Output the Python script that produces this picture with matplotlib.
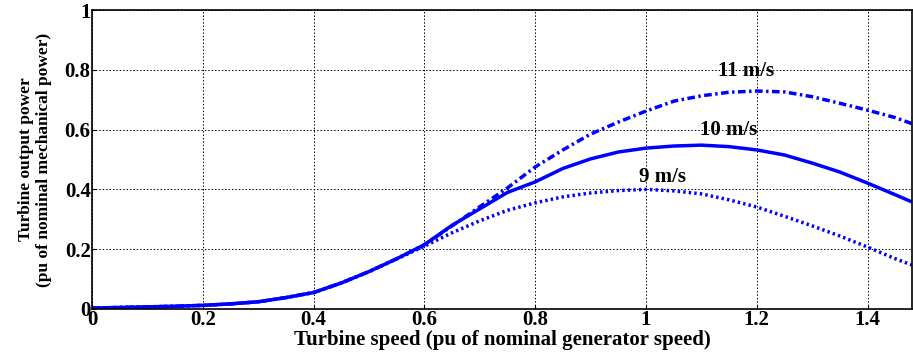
import matplotlib
matplotlib.use("Agg")
import matplotlib.pyplot as plt
import numpy as np

# Turbine speed (pu)
speed = [0, 0.05, 0.1, 0.15, 0.2, 0.25, 0.3, 0.35, 0.4, 0.45, 0.5, 0.55, 0.6,
         0.65, 0.7, 0.75, 0.8, 0.85, 0.9, 0.95, 1.0, 1.05, 1.1, 1.15, 1.2,
         1.25, 1.3, 1.35, 1.4, 1.45, 1.48]

# Turbine output power (pu) for each wind speed
p_9 = [0.003, 0.005, 0.007, 0.009, 0.012, 0.017, 0.024, 0.038, 0.055, 0.087, 0.125, 0.167, 0.21,
       0.255, 0.295, 0.33, 0.355, 0.375, 0.388, 0.396, 0.4, 0.395, 0.385, 0.365, 0.341,
       0.31, 0.278, 0.244, 0.207, 0.168, 0.147]
p_10 = [0.003, 0.005, 0.007, 0.009, 0.012, 0.017, 0.024, 0.038, 0.055, 0.087, 0.125, 0.168, 0.215,
        0.28, 0.335, 0.39, 0.425, 0.47, 0.502, 0.525, 0.538, 0.545, 0.548, 0.543, 0.532,
        0.515, 0.488, 0.458, 0.421, 0.382, 0.358]
p_11 = [0.003, 0.005, 0.007, 0.009, 0.012, 0.017, 0.024, 0.038, 0.055, 0.087, 0.125, 0.168, 0.215,
        0.278, 0.342, 0.405, 0.475, 0.532, 0.585, 0.625, 0.662, 0.695, 0.713, 0.725, 0.729,
        0.726, 0.71, 0.688, 0.665, 0.64, 0.62]

labels = ["9 m/s", "10 m/s", "11 m/s"]
label_pos = [(1.03, 0.44), (1.15, 0.60), (1.18, 0.795)]

plt.rcParams["font.family"] = "Liberation Serif"
plt.rcParams["font.weight"] = "bold"

fig = plt.figure(figsize=(9.13, 3.58), dpi=100)
ax = fig.add_axes([0.1008, 0.137, 0.898, 0.835])

blue = "#0000ff"
ax.plot(speed, p_9, color=blue, lw=2.5, dashes=(0.7, 0.9))
ax.plot(speed, p_10, color=blue, lw=2.5)
ax.plot(speed, p_11, color=blue, lw=2.5, dashes=(2.2, 1.0, 0.7, 1.0))

for txt, (tx, ty) in zip(labels, label_pos):
    ax.text(tx, ty, txt, ha="center", va="center", fontsize=15, fontweight="bold")

ax.set_xlim(0, 1.48)
ax.set_ylim(0, 1)
ax.set_xticks([0, 0.2, 0.4, 0.6, 0.8, 1, 1.2, 1.4])
ax.set_xticklabels(["0", "0.2", "0.4", "0.6", "0.8", "1", "1.2", "1.4"])
ax.set_yticks([0, 0.2, 0.4, 0.6, 0.8, 1])
ax.set_yticklabels(["0", "0.2", "0.4", "0.6", "0.8", "1"])
ax.tick_params(direction="in", length=3, labelsize=15, pad=1)
ax.grid(True, color="black", linestyle=(0, (1.5, 2)), linewidth=0.7)
for s in ax.spines.values():
    s.set_linewidth(1.2)

ax.set_xlabel("Turbine speed (pu of nominal generator speed)", fontsize=15, fontweight="bold", labelpad=0)
ax.set_ylabel("Turbine output power\n(pu of nominal mechanical power)", fontsize=12.5, fontweight="bold", labelpad=9, linespacing=1.15)

fig.savefig("out.png", dpi=100)
